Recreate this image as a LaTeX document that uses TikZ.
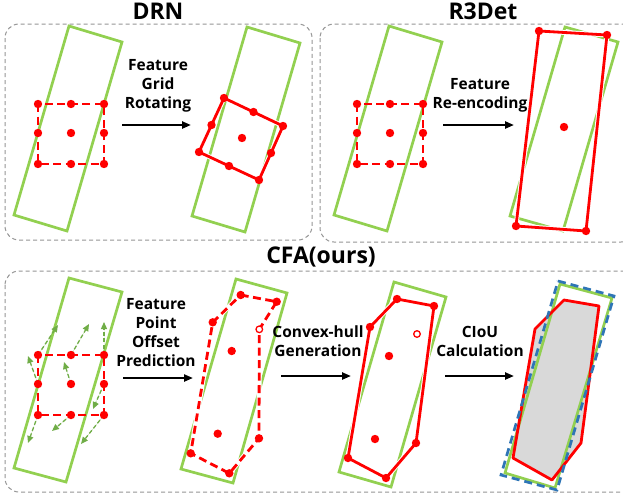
\documentclass[tikz,border=0pt]{standalone}
\usepackage{fontspec}
\setmainfont{Open Sans}
\usetikzlibrary{arrows.meta,calc}
\definecolor{gbox}{RGB}{146,208,80}
\definecolor{garr}{RGB}{112,173,71}
\definecolor{bdash}{RGB}{46,117,182}
\definecolor{framec}{RGB}{150,150,150}
\definecolor{hullc}{RGB}{217,217,217}
\begin{document}
\begin{tikzpicture}[x=1pt,y=-1pt,
 panel/.style={draw=framec, dash pattern=on 4pt off 3pt, line width=1pt, rounded corners=14pt},
 gt/.style={draw=gbox, line width=2.7pt},
 rdash/.style={draw=red, line width=2.8pt, dash pattern=on 8pt off 4.5pt},
 rsolid/.style={draw=red, line width=2.8pt, line join=round},
 halo/.style={draw=white, line width=4.8pt, line join=round},
 ttl/.style={font=\fontsize{23}{27}\selectfont\bfseries, inner sep=0pt},
 lab/.style={font=\fontsize{15.5}{19}\selectfont\bfseries, align=center, inner sep=0pt},
 flow/.style={-{Triangle[length=9pt,width=7pt]}, line width=2.2pt, draw=black},
 offs/.style={-{Triangle[length=7pt,width=6pt]}, draw=garr, fill=garr, line width=1.3pt, dash pattern=on 4pt off 2.5pt},
]
\useasboundingbox (0,0) rectangle (623,496);
\fill[white] (0,0) rectangle (623,496);

% panels
\draw[panel] (5,24) rectangle (312,240);
\draw[panel] (320,24) rectangle (635,242);
\draw[panel] (5,271) rectangle (635,492);

% titles
\node[ttl] (tdrn) at (158,11) {DRN};
\node[ttl] (tr3) at (483,11) {R3Det};
\node[ttl] (tcfa) at (321,257) {CFA(ours)};

% ---------- Panel A ----------
\draw[gt] (69,26) -- (122,42) -- (67,231) -- (14,215) -- cycle;
\foreach \i/\x in {1/38,2/71,3/104}{\foreach \j/\y in {1/104,2/133,3/164}{\coordinate (a\i\j) at (\x,\y);}}
\draw[rdash] (a11) rectangle (a33);
\foreach \p in {a11,a21,a31,a12,a22,a32,a13,a23,a33}{\fill[red] (\p) circle (4.2);}
\node[lab] (la) at (158,86) {Feature\\Grid\\Rotating};
\coordinate (aa1) at (122,125); \coordinate (aa2) at (191,125);
\draw[flow] (aa1) -- (aa2);

% ---------- Panel B ----------
\draw[gt] (247,27) -- (300,43) -- (245,232) -- (192,216) -- cycle;
\coordinate (b1) at (224,98); \coordinate (b2) at (283,126);
\coordinate (b3) at (259,180); \coordinate (b4) at (199,152);
\draw[halo] (b1) -- (b2) -- (b3) -- (b4) -- cycle;
\draw[rsolid] (b1) -- (b2) -- (b3) -- (b4) -- cycle;
\foreach \p in {b1,b2,b3,b4}{\fill[red] (\p) circle (4.2);}
\fill[red] ($(b1)!0.5!(b2)$) circle (4.2);
\fill[red] ($(b2)!0.5!(b3)$) circle (4.2);
\fill[red] ($(b3)!0.5!(b4)$) circle (4.2);
\fill[red] ($(b4)!0.5!(b1)$) circle (4.2);
\fill[red] (242,138) circle (4.2);

% ---------- Panel C ----------
\draw[gt] (389,26) -- (442,42) -- (387,231) -- (334,215) -- cycle;
\foreach \i/\x in {1/357,2/390,3/423}{\foreach \j/\y in {1/104,2/133,3/164}{\coordinate (c\i\j) at (\x,\y);}}
\draw[rdash] (c11) rectangle (c33);
\foreach \p in {c11,c21,c31,c12,c22,c32,c13,c23,c33}{\fill[red] (\p) circle (4.2);}
\node[lab] (lc) at (480,95) {Feature\\Re-encoding};
\coordinate (ca1) at (443,125); \coordinate (ca2) at (514,125);
\draw[flow] (ca1) -- (ca2);

% ---------- Panel D ----------
\draw[gt] (565,27) -- (618,42) -- (563,231) -- (510,216) -- cycle;
\coordinate (d1) at (539,31); \coordinate (d2) at (607,35);
\coordinate (d3) at (586,231); \coordinate (d4) at (516,226);
\draw[halo] (d1) -- (d2) -- (d3) -- (d4) -- cycle;
\draw[rsolid] (d1) -- (d2) -- (d3) -- (d4) -- cycle;
\foreach \p in {d1,d2,d3,d4}{\fill[red] (\p) circle (4.2);}
\fill[red] (564,127) circle (4.2);

% ---------- Panel E ----------
\draw[gt] (69,278) -- (122,292) -- (66,482) -- (14,468) -- cycle;
\foreach \i/\x in {1/38,2/71,3/104}{\foreach \j/\y in {1/355,2/384,3/415}{\coordinate (e\i\j) at (\x,\y);}}
\coordinate (t11) at (58,325);
\coordinate (t21) at (89,324);
\coordinate (t31) at (104,322);
\coordinate (t12) at (28,356);
\coordinate (t22) at (64,362);
\coordinate (t32) at (93,409);
\coordinate (t13) at (28,443);
\coordinate (t23) at (52,431);
\coordinate (t33) at (81,444);
\foreach \p in {11,21,31,12,22,32,13,23,33}{\draw[offs] (e\p) -- (t\p);}
\draw[rdash] (e11) rectangle (e33);
\foreach \p in {e11,e21,e31,e12,e22,e32,e13,e23,e33}{\fill[red] (\p) circle (4.2);}
\node[lab] (le) at (156,333) {Feature\\Point\\Offset\\Prediction};
\coordinate (ea1) at (123,378); \coordinate (ea2) at (193,378);
\draw[flow] (ea1) -- (ea2);

% ---------- Panel F ----------
\draw[gt] (236,279) -- (287,293) -- (233,483) -- (181,469) -- cycle;
\coordinate (f1) at (240.7,295); \coordinate (f2) at (276.7,301.7);
\coordinate (f3) at (259.3,329.3); \coordinate (f4) at (259,438.3);
\coordinate (f5) at (229.3,473.3); \coordinate (f6) at (190.7,453.3);
\coordinate (f7) at (212.7,322.3);
\draw[halo] (f1) -- (f2) -- (f3) -- (f4) -- (f5) -- (f6) -- (f7) -- cycle;
\draw[rdash] (f1) -- (f2) -- (f3) -- (f4) -- (f5) -- (f6) -- (f7) -- cycle;
\foreach \p in {f1,f2,f4,f5,f6,f7}{\fill[red] (\p) circle (4.2);}
\draw[red, fill=white, line width=1.3pt] (f3) circle (3.3);
\fill[red] (231.7,351) circle (4.2);
\fill[red] (217.7,433.7) circle (4.2);
\node[lab] (lf) at (318,341) {Convex-hull\\Generation};
\coordinate (fa1) at (281,376); \coordinate (fa2) at (351,376);
\draw[flow] (fa1) -- (fa2);

% ---------- Panel G ----------
\draw[gt] (394,282) -- (446,297) -- (391,487) -- (339,472) -- cycle;
\coordinate (g1) at (397,299); \coordinate (g2) at (434,306);
\coordinate (g3) at (416,443); \coordinate (g4) at (386,478);
\coordinate (g5) at (348,458); \coordinate (g6) at (370,327);
\draw[halo] (g1) -- (g2) -- (g3) -- (g4) -- (g5) -- (g6) -- cycle;
\draw[rsolid] (g1) -- (g2) -- (g3) -- (g4) -- (g5) -- (g6) -- cycle;
\foreach \p in {g1,g2,g3,g4,g5,g6}{\fill[red] (\p) circle (4.2);}
\draw[red, fill=white, line width=1.3pt] (417,334) circle (3.3);
\fill[red] (389,356) circle (4.2);
\fill[red] (375,439) circle (4.2);
\node[lab] (lg) at (480,341) {CIoU\\Calculation};
\coordinate (ga1) at (445,376); \coordinate (ga2) at (514,376);
\draw[flow] (ga1) -- (ga2);

% ---------- Panel H ----------
\coordinate (h1) at (564,300); \coordinate (h2) at (599,306);
\coordinate (h3) at (581,443); \coordinate (h4) at (552,480);
\coordinate (h5) at (513,458); \coordinate (h6) at (535,329);
\fill[hullc] (h1) -- (h2) -- (h3) -- (h4) -- (h5) -- (h6) -- cycle;
\draw[gt] (560,284) -- (612,298) -- (555,488) -- (505,473) -- cycle;
\draw[rsolid] (h1) -- (h2) -- (h3) -- (h4) -- (h5) -- (h6) -- cycle;
\draw[draw=bdash, line width=2.7pt, dash pattern=on 8pt off 5pt] (558,281) -- (614,296) -- (557,490) -- (501,475) -- cycle;
\end{tikzpicture}
\end{document}
